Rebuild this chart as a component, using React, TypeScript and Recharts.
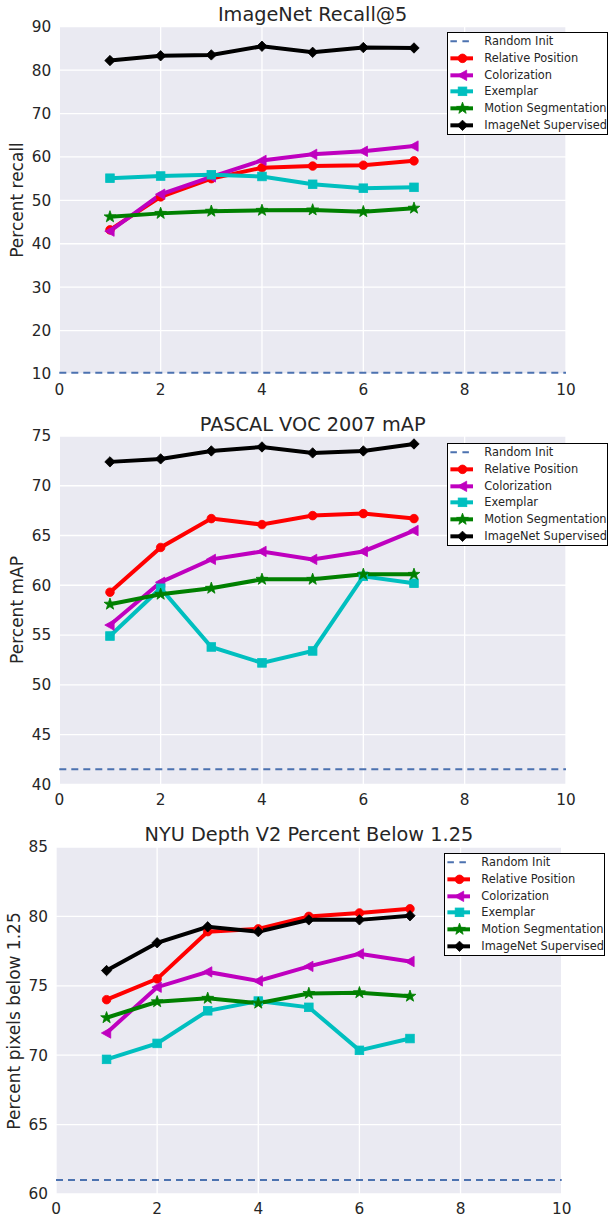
import React from 'react';
import { LineChart, Line, XAxis, YAxis, CartesianGrid, ReferenceLine } from 'recharts';

const FONT = '"DejaVu Sans", Verdana, sans-serif';
const TEXT = '#262626';

// shared
const xValues = [1, 2, 3, 4, 5, 6, 7];
const xTicks = [0, 2, 4, 6, 8, 10];
const legendLabels = ['Random Init', 'Relative Position', 'Colorization', 'Exemplar', 'Motion Segmentation', 'ImageNet Supervised'];

// Chart 1: ImageNet Recall@5
const recallTitle = 'ImageNet Recall@5';
const recallYLabel = 'Percent recall';
const recallTicks = [10, 20, 30, 40, 50, 60, 70, 80, 90];
const recallRandom = 10.3;
const recallRelative = [43.2, 50.8, 55.0, 57.5, 57.9, 58.1, 59.1];
const recallColorization = [42.9, 51.4, 55.4, 59.2, 60.6, 61.3, 62.5];
const recallExemplar = [55.1, 55.6, 55.9, 55.5, 53.7, 52.8, 53.0];
const recallMotion = [46.2, 47.0, 47.5, 47.7, 47.8, 47.4, 48.2];
const recallSupervised = [82.2, 83.3, 83.5, 85.5, 84.1, 85.2, 85.1];

// Chart 2: PASCAL VOC 2007 mAP
const vocTitle = 'PASCAL VOC 2007 mAP';
const vocYLabel = 'Percent mAP';
const vocTicks = [40, 45, 50, 55, 60, 65, 70, 75];
const vocRandom = 41.5;
const vocRelative = [59.3, 63.8, 66.7, 66.1, 67.0, 67.2, 66.7];
const vocColorization = [56.0, 60.3, 62.6, 63.4, 62.6, 63.4, 65.5];
const vocExemplar = [54.9, 59.7, 53.8, 52.2, 53.4, 60.9, 60.2];
const vocMotion = [58.1, 59.1, 59.7, 60.6, 60.6, 61.1, 61.1];
const vocSupervised = [72.4, 72.7, 73.5, 73.9, 73.3, 73.5, 74.2];

// Chart 3: NYU Depth V2 Percent Below 1.25
const nyuTitle = 'NYU Depth V2 Percent Below 1.25';
const nyuYLabel = 'Percent pixels below 1.25';
const nyuTicks = [60, 65, 70, 75, 80, 85];
const nyuRandom = 61.0;
const nyuRelative = [74.0, 75.5, 78.9, 79.1, 80.0, 80.25, 80.55];
const nyuColorization = [71.6, 74.9, 76.0, 75.35, 76.4, 77.3, 76.75];
const nyuExemplar = [69.7, 70.85, 73.2, 73.9, 73.45, 70.35, 71.2];
const nyuMotion = [72.7, 73.85, 74.1, 73.75, 74.45, 74.5, 74.25];
const nyuSupervised = [76.1, 78.1, 79.25, 78.9, 79.75, 79.75, 80.05];

type Shape = 'circle' | 'triangle' | 'square' | 'star' | 'diamond';
const seriesKeys = ['rel', 'col', 'ex', 'mot', 'sup'];
const seriesColors = ['#FF0000', '#BF00BF', '#00BFBF', '#008000', '#000000'];
const seriesShapes: Shape[] = ['circle', 'triangle', 'square', 'star', 'diamond'];
const randomColor = '#4C72B0';
const LINE_W = 4;

function markerEl(shape: Shape, cx: number, cy: number, color: string, key?: any) {
  const common = { fill: color, stroke: color, strokeWidth: 0.8 };
  if (cx == null || cy == null || isNaN(cx) || isNaN(cy)) return <g key={key} />;
  switch (shape) {
    case 'circle':
      return <circle key={key} cx={cx} cy={cy} r={4.3} {...common} />;
    case 'triangle': {
      const s = 5.2;
      return <polygon key={key} points={`${cx - s},${cy} ${cx + s * 0.8},${cy - s} ${cx + s * 0.8},${cy + s}`} {...common} />;
    }
    case 'square': {
      const s = 4.3;
      return <rect key={key} x={cx - s} y={cy - s} width={2 * s} height={2 * s} {...common} />;
    }
    case 'star': {
      const R = 6.2, r = 2.5;
      const pts: string[] = [];
      for (let k = 0; k < 10; k++) {
        const ang = (-90 + k * 36) * Math.PI / 180;
        const rad = k % 2 === 0 ? R : r;
        pts.push(`${cx + rad * Math.cos(ang)},${cy + rad * Math.sin(ang)}`);
      }
      return <polygon key={key} points={pts.join(' ')} {...common} />;
    }
    case 'diamond': {
      const s = 5.2;
      return <polygon key={key} points={`${cx},${cy - s} ${cx + s},${cy} ${cx},${cy + s} ${cx - s},${cy}`} {...common} />;
    }
  }
  return <g key={key} />;
}

function buildRows(series: number[][]) {
  return xValues.map((x, i) => {
    const row: any = { x };
    seriesKeys.forEach((k, j) => {
      row[k] = series[j][i];
    });
    return row;
  });
}

function Legend({ left, top }: { left: number; top: number }) {
  const rowH = 16.67;
  return (
    <div
      style={{
        position: 'absolute',
        left,
        top,
        width: 161,
        height: 103,
        boxSizing: 'border-box',
        border: '1px solid #000',
        background: '#fff',
        fontFamily: FONT,
        fontSize: 11.4,
        color: TEXT,
      }}
    >
      {legendLabels.map((lab, i) => (
        <div
          key={lab}
          style={{
            position: 'absolute',
            left: 0,
            top: 10 - 1 + i * rowH - rowH / 2,
            height: rowH,
            width: 159,
          }}
        >
          <svg width={34} height={rowH} style={{ position: 'absolute', left: 0, top: 0 }}>
            {i === 0 ? (
              <line x1={2.4} x2={25} y1={rowH / 2} y2={rowH / 2} stroke={randomColor} strokeWidth={2} strokeDasharray="6.5 5.5" />
            ) : (
              <g>
                <line x1={2.4} x2={25} y1={rowH / 2} y2={rowH / 2} stroke={seriesColors[i - 1]} strokeWidth={LINE_W} />
                {markerEl(seriesShapes[i - 1], 14.5, rowH / 2, seriesColors[i - 1])}
              </g>
            )}
          </svg>
          <div
            style={{
              position: 'absolute',
              left: 36,
              top: 0,
              height: rowH,
              lineHeight: `${rowH}px`,
              whiteSpace: 'nowrap',
            }}
          >
            {lab}
          </div>
        </div>
      ))}
    </div>
  );
}

type PanelProps = {
  top: number;
  height: number;
  plotTop: number;
  plotBottom: number;
  plotLeft: number;
  plotRight: number;
  yDomain: [number, number];
  yTicks: number[];
  title: string;
  titleBaseline: number;
  ylabel: string;
  ylabelX: number;
  series: number[][];
  random: number;
  legendLeft: number;
  legendTop: number;
  xTickMargin: number;
};

function Panel(p: PanelProps) {
  const rows = buildRows(p.series);
  const xAxisH = 20;
  const yAxisW = 45;
  const margin = {
    top: p.plotTop - p.top,
    bottom: p.top + p.height - p.plotBottom - xAxisH,
    left: p.plotLeft - yAxisW,
    right: 608 - p.plotRight,
  };
  const tickStyle = { fill: TEXT, fontSize: 15.3, fontFamily: FONT };
  const titleSize = 19.3;
  return (
    <>
      <div style={{ position: 'absolute', left: 0, top: p.top, width: 608, height: p.height }}>
        <LineChart width={608} height={p.height} data={rows} margin={margin} style={{ overflow: 'visible' }}>
          <CartesianGrid fill="#EAEAF2" fillOpacity={1} stroke="#FFFFFF" strokeWidth={1.3} />
          <XAxis
            dataKey="x"
            type="number"
            domain={[0, 10]}
            ticks={xTicks}
            interval={0}
            height={xAxisH}
            tickSize={0}
            tickMargin={p.xTickMargin}
            axisLine={false}
            tickLine={false}
            tick={tickStyle}
            allowDataOverflow
          />
          <YAxis
            type="number"
            domain={p.yDomain}
            ticks={p.yTicks}
            interval={0}
            width={yAxisW}
            tickSize={0}
            tickMargin={8}
            axisLine={false}
            tickLine={false}
            tick={tickStyle}
            allowDataOverflow
          />
          <ReferenceLine y={p.random} stroke={randomColor} strokeWidth={2} strokeDasharray="7 5" />
          {seriesKeys.map((k, j) => (
            <Line
              key={k}
              type="linear"
              dataKey={k}
              stroke={seriesColors[j]}
              strokeWidth={LINE_W}
              dot={(dp: any) => markerEl(seriesShapes[j], dp.cx, dp.cy, seriesColors[j], `${k}-${dp.index}`)}
              activeDot={false}
              isAnimationActive={false}
            />
          ))}
        </LineChart>
      </div>
      <div
        style={{
          position: 'absolute',
          left: (p.plotLeft + p.plotRight) / 2,
          top: p.titleBaseline - 0.846 * titleSize,
          transform: 'translateX(-50%)',
          fontFamily: FONT,
          fontSize: titleSize,
          lineHeight: `${titleSize}px`,
          color: TEXT,
          whiteSpace: 'nowrap',
        }}
      >
        {p.title}
      </div>
      <div
        style={{
          position: 'absolute',
          left: p.ylabelX,
          top: (p.plotTop + p.plotBottom) / 2,
          transform: 'translate(-50%, -50%) rotate(-90deg)',
          fontFamily: FONT,
          fontSize: 17,
          lineHeight: '17px',
          color: TEXT,
          whiteSpace: 'nowrap',
        }}
      >
        {p.ylabel}
      </div>
      <Legend left={p.legendLeft} top={p.legendTop} />
    </>
  );
}

export default function App() {
  return (
    <div style={{ position: 'absolute', left: 0, top: 0, width: 608, height: 1217, background: '#fff', overflow: 'hidden' }}>
      <Panel
        top={0}
        height={410}
        plotTop={26.7}
        plotBottom={374}
        plotLeft={59.3}
        plotRight={566}
        yDomain={[10, 90]}
        yTicks={recallTicks}
        title={recallTitle}
        titleBaseline={21.3}
        ylabel={recallYLabel}
        ylabelX={17}
        series={[recallRelative, recallColorization, recallExemplar, recallMotion, recallSupervised]}
        random={recallRandom}
        legendLeft={447.3}
        legendTop={31.7}
        xTickMargin={10}
      />
      <Panel
        top={410}
        height={410}
        plotTop={436}
        plotBottom={784.3}
        plotLeft={59.3}
        plotRight={566}
        yDomain={[40, 75]}
        yTicks={vocTicks}
        title={vocTitle}
        titleBaseline={431}
        ylabel={vocYLabel}
        ylabelX={17}
        series={[vocRelative, vocColorization, vocExemplar, vocMotion, vocSupervised]}
        random={vocRandom}
        legendLeft={447.3}
        legendTop={442.7}
        xTickMargin={10}
      />
      <Panel
        top={820}
        height={397}
        plotTop={847}
        plotBottom={1194}
        plotLeft={56}
        plotRight={561.7}
        yDomain={[60, 85]}
        yTicks={nyuTicks}
        title={nyuTitle}
        titleBaseline={841.5}
        ylabel={nyuYLabel}
        ylabelX={14}
        series={[nyuRelative, nyuColorization, nyuExemplar, nyuMotion, nyuSupervised]}
        random={nyuRandom}
        legendLeft={444.3}
        legendTop={852.7}
        xTickMargin={9}
      />
    </div>
  );
}
